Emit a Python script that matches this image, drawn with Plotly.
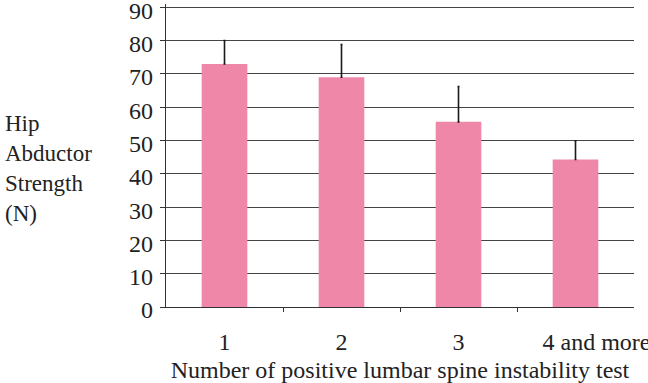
import plotly.graph_objects as go

categories = ["1", "2", "3", "4 and more"]
strength_mean = [73.0, 69.0, 55.6, 44.3]
strength_sd_up = [7.0, 9.8, 10.6, 5.6]
y_ticks = [0, 10, 20, 30, 40, 50, 60, 70, 80, 90]

x_pos = list(range(1, len(categories) + 1))
# last label is offset to the right in the original (and cut by the image edge)
tick_text = categories[:-1] + ["\u00a0" * 7 + categories[-1]]

font_family = "Liberation Serif"
FS = 24

fig = go.Figure(
    go.Bar(
        x=x_pos,
        y=strength_mean,
        width=0.39,
        marker=dict(color="#EF87A9", line=dict(width=0)),
        error_y=dict(
            type="data",
            symmetric=False,
            array=strength_sd_up,
            arrayminus=[0] * len(strength_sd_up),
            color="#1a1a1a",
            thickness=1.6,
            width=1,
        ),
    )
)

fig.update_layout(
    width=648,
    height=383,
    margin=dict(l=166, r=14, t=4, b=76),
    paper_bgcolor="white",
    plot_bgcolor="white",
    showlegend=False,
    font=dict(family=font_family, size=FS, color="#222222"),
    xaxis=dict(
        range=[0.5, 4.5],
        tickmode="array",
        tickvals=x_pos,
        ticktext=tick_text,
        ticks="",
        showgrid=False,
        showline=True,
        linecolor="#333333",
        linewidth=1.3,
        zeroline=False,
        automargin=False,
        ticklabelstandoff=13,
        ticklabeloverflow="allow",
        minor=dict(
            tickmode="array",
            tickvals=[1.5, 2.5, 3.5],
            ticks="outside",
            ticklen=4,
            tickcolor="#333333",
            tickwidth=1.3,
            showgrid=False,
        ),
        title=dict(
            text="Number of positive lumbar spine instability test",
            font=dict(family=font_family, size=FS),
            standoff=20,
        ),
        fixedrange=True,
    ),
    yaxis=dict(
        range=[0, 91],
        tickmode="array",
        tickvals=y_ticks,
        ticks="outside",
        ticklen=5,
        tickcolor="#333333",
        tickwidth=1.3,
        showline=True,
        linecolor="#333333",
        linewidth=1.3,
        showgrid=True,
        gridcolor="#444444",
        gridwidth=1.3,
        zeroline=False,
        automargin=False,
        ticklabelstandoff=2,
        ticklabelshift=3,
        ticklabeloverflow="allow",
        fixedrange=True,
    ),
    annotations=[
        dict(
            text="Hip<br>Abductor<br>Strength<br>(N)",
            xref="paper",
            yref="paper",
            x=(3 - 166) / 468,
            y=0.458,
            xanchor="left",
            yanchor="middle",
            align="left",
            showarrow=False,
            font=dict(family=font_family, size=23, color="#222222"),
        )
    ],
)

fig.write_html("out.html")
